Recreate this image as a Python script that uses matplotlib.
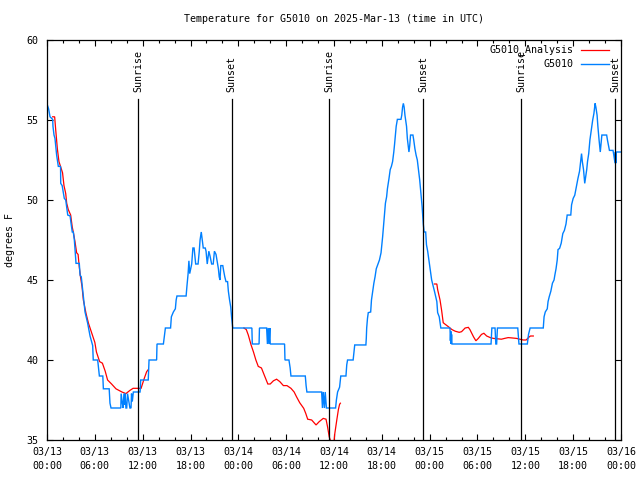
import matplotlib
matplotlib.use("Agg")
import matplotlib.pyplot as plt
from matplotlib.ticker import MultipleLocator, FixedLocator
from matplotlib.lines import Line2D

# ---------------- data (hours since 2025-03-13 00:00 UTC) ----------------
obs_hours = [0.0, 0.2, 0.38, 0.71, 0.75, 0.88, 1.0, 1.21, 1.42, 1.7, 1.72, 1.9, 2.0, 2.17, 2.35,
             2.6, 2.9, 3.0, 3.17, 3.3, 3.43, 3.64, 4.05, 4.15, 4.3, 4.47, 4.77, 5.1, 5.4, 5.73,
             5.8, 6.35, 6.4, 6.57, 7.0, 7.07, 7.8, 7.9, 8.03, 9.26, 9.3, 9.45, 9.55, 9.65, 9.75,
             9.8, 9.9, 10.0, 10.1, 10.4, 10.54, 10.6, 10.7, 10.83, 11.67, 11.7, 11.75, 12.7,
             12.75, 12.8, 13.75, 13.8, 14.6, 14.85, 15.5, 15.6, 15.85, 16.1, 16.2, 16.3, 17.45,
             17.55, 17.7, 17.8, 17.9, 18.15, 18.3, 18.45, 18.65, 18.95, 19.1, 19.2, 19.35, 19.6,
             19.85, 19.95, 20.1, 20.3, 20.45, 20.65, 20.85, 21.0, 21.2, 21.4, 21.5, 21.6, 21.7,
             21.8, 22.05, 22.15, 22.3, 22.45, 22.65, 22.75, 22.9, 23.05, 23.15, 23.3, 25.7,
             25.75, 26.6, 26.65, 27.55, 27.65, 27.75, 27.85, 27.95, 28.0, 29.8, 29.85, 30.35,
             30.5, 30.6, 32.4, 32.5, 32.6, 34.45, 34.55, 34.65, 34.8, 34.9, 35.05, 35.2, 36.2,
             36.3, 36.45, 36.7, 36.85, 37.5, 37.6, 37.7, 38.4, 38.5, 38.6, 40.0, 40.05, 40.1,
             40.2, 40.3, 40.6, 40.7, 40.85, 41.0, 41.15, 41.3, 41.45, 41.55, 41.7, 41.9, 42.0,
             42.1, 42.2, 42.3, 42.45, 42.6, 42.7, 42.9, 43.05, 43.2, 43.35, 43.5, 43.6, 43.8,
             43.95, 44.4, 44.5, 44.6, 44.7, 44.8, 44.9, 45.1, 45.2, 45.4, 45.5, 45.6, 45.9,
             46.0, 46.15, 46.3, 46.45, 46.6, 46.75, 46.9, 47.05, 47.15, 47.2, 47.3, 47.5, 47.6,
             47.75, 47.9, 48.05, 48.15, 48.25, 48.4, 48.6, 48.9, 49.0, 49.2, 49.4, 50.55, 50.6,
             50.65, 50.7, 50.75, 50.8, 55.7, 55.8, 56.2, 56.3, 56.4, 56.5, 59.05, 59.2, 60.25,
             60.4, 60.6, 62.25, 62.35, 62.5, 62.75, 62.85, 63.0, 63.2, 63.4, 63.6, 63.7, 63.85,
             64.0, 64.1, 64.3, 64.5, 64.7, 64.9, 65.1, 65.25, 65.7, 65.8, 66.0, 66.2, 66.4,
             66.6, 66.8, 67.05, 67.15, 67.3, 67.45, 67.55, 67.7, 67.8, 67.95, 68.1, 68.25,
             68.45, 68.6, 68.75, 68.85, 69.0, 69.1, 69.25, 69.4, 69.5, 69.6, 70.2, 70.3, 70.55,
             71.0, 71.1, 71.25, 71.3, 71.35, 71.4, 71.45, 71.9, 72.0]
obs_temps = [56.0, 55.7, 55.2, 55.04, 54.6, 54.06, 53.85, 52.8, 52.1, 52.1, 51.04, 50.9, 50.6,
             50.1, 50.0, 49.06, 49.0, 48.6, 48.0, 48.0, 47.5, 46.04, 46.04, 45.3, 45.2, 44.4,
             43.0, 42.3, 41.5, 40.9, 40.0, 40.0, 39.8, 39.0, 39.0, 38.2, 38.2, 37.3, 37.0, 37.0,
             37.9, 37.3, 37.0, 37.9, 37.2, 37.9, 37.0, 37.0, 37.9, 37.0, 37.0, 37.9, 37.4, 38.0,
             38.0, 38.2, 38.75, 38.75, 39.4, 40.0, 40.0, 41.0, 41.0, 42.0, 42.0, 42.7, 43.0,
             43.2, 43.75, 44.0, 44.0, 44.6, 45.4, 46.2, 45.4, 46.0, 47.0, 47.0, 46.0, 46.0, 46.8,
             47.5, 48.0, 47.0, 47.0, 46.8, 46.0, 46.8, 46.5, 46.0, 46.0, 46.8, 46.6, 46.0, 45.7,
             45.2, 45.0, 45.9, 45.9, 45.6, 45.2, 44.9, 44.9, 44.3, 43.75, 43.3, 42.7, 42.0, 42.0,
             41.0, 41.0, 42.0, 42.0, 41.0, 42.0, 41.0, 42.0, 41.0, 41.0, 40.0, 40.0, 39.5, 39.0,
             39.0, 38.4, 38.0, 38.0, 37.0, 38.0, 37.0, 38.0, 37.0, 37.0, 37.0, 37.5, 38.0, 38.3,
             39.0, 39.0, 39.7, 40.0, 40.0, 40.5, 40.94, 40.94, 41.35, 42.0, 42.6, 42.96, 43.0,
             43.75, 44.3, 44.8, 45.2, 45.7, 45.9, 46.04, 46.25, 46.7, 47.2, 47.7, 48.3, 48.85,
             49.8, 50.2, 50.7, 51.35, 51.9, 52.1, 52.4, 53.0, 53.5, 54.6, 55.04, 55.04, 55.3,
             55.8, 56.04, 55.8, 55.3, 54.6, 53.85, 53.0, 53.4, 54.06, 54.06, 53.75, 53.2, 52.8,
             52.5, 51.9, 51.25, 50.4, 49.6, 48.85, 48.5, 48.0, 48.0, 47.2, 46.8, 46.25, 45.7,
             45.3, 45.0, 44.7, 44.3, 43.65, 42.96, 42.7, 42.0, 42.0, 41.2, 41.8, 41.0, 41.6,
             41.0, 41.0, 42.0, 42.0, 41.0, 41.0, 42.0, 42.0, 41.0, 41.0, 41.6, 42.0, 42.0, 42.7,
             43.0, 43.2, 43.65, 43.96, 44.3, 44.8, 45.0, 45.3, 45.7, 46.25, 46.9, 46.98, 47.3,
             47.9, 48.1, 48.5, 49.06, 49.06, 49.7, 50.1, 50.3, 50.83, 51.35, 51.8, 52.9, 52.4,
             51.9, 51.04, 51.4, 51.9, 52.4, 52.9, 53.75, 54.3, 55.0, 55.4, 56.04, 55.8, 55.3,
             54.6, 53.75, 53.0, 53.5, 54.06, 54.06, 53.75, 53.1, 53.1, 52.8, 52.3, 53.0, 52.3,
             53.0, 53.0, 53.0, 53.0]

ana_hours_1 = [0.71, 0.96, 1.09, 1.3, 1.5, 1.76, 1.95, 2.13, 2.35, 2.47, 2.67, 2.97, 3.17, 3.3,
               3.51, 3.72, 3.9, 4.05, 4.2, 4.39, 4.56, 4.9, 5.2, 5.6, 6.0, 6.2, 6.6, 6.95, 7.3,
               7.6, 8.1, 8.65, 9.4, 9.9, 10.4, 10.8, 11.8, 12.2, 12.5, 12.7]
ana_temps_1 = [55.2, 55.2, 54.4, 53.2, 52.4, 52.0, 51.7, 50.9, 50.4, 49.8, 49.4, 49.06, 48.3,
               48.0, 47.4, 46.7, 46.6, 45.8, 45.2, 44.6, 43.75, 42.9, 42.3, 41.7, 41.1, 40.5,
               39.9, 39.8, 39.3, 38.75, 38.5, 38.2, 38.0, 37.9, 38.1, 38.23, 38.23, 38.85,
               39.27, 39.4]
ana_hours_2 = [24.7, 25.0, 25.25, 25.6, 25.9, 26.2, 26.5, 26.9, 27.25, 27.7, 28.0, 28.4, 28.8,
               29.2, 29.65, 30.1, 30.6, 31.0, 31.3, 31.7, 32.2, 32.45, 32.7, 33.2, 33.75, 34.15,
               34.65, 35.0, 35.2, 35.4, 35.6, 36.0, 36.1, 36.35, 36.55, 36.7, 36.8]
ana_temps_2 = [42.0, 41.9, 41.56, 40.94, 40.5, 40.0, 39.6, 39.5, 39.06, 38.5, 38.5, 38.7, 38.8,
               38.65, 38.4, 38.4, 38.23, 38.0, 37.7, 37.33, 36.98, 36.67, 36.3, 36.25, 35.94,
               36.15, 36.35, 36.3, 35.8, 35.2, 34.9, 34.9, 35.4, 36.25, 36.9, 37.23, 37.3]
ana_hours_3 = [48.6, 48.9, 49.0, 49.3, 49.5, 49.7, 49.9, 50.35, 50.8, 51.2, 51.7, 52.0, 52.45,
               52.85, 53.05, 53.5, 53.8, 54.1, 54.5, 54.8, 55.15, 55.6, 56.0, 57.0, 57.4, 57.85,
               58.3, 58.9, 59.3, 59.75, 60.1, 60.3, 60.5, 60.65, 61.0]
ana_temps_3 = [44.75, 44.75, 44.4, 43.75, 43.1, 42.33, 42.25, 42.08, 41.9, 41.8, 41.73, 41.77,
               42.0, 42.04, 41.9, 41.45, 41.2, 41.35, 41.6, 41.67, 41.5, 41.4, 41.35, 41.3,
               41.35, 41.4, 41.38, 41.35, 41.3, 41.25, 41.25, 41.35, 41.45, 41.5, 41.5]

event_hours = [11.42, 23.18, 35.42, 47.22, 59.46, 71.25]
event_labels = ["Sunrise", "Sunset", "Sunrise", "Sunset", "Sunrise", "Sunset"]

xtick_hours = [0, 6, 12, 18, 24, 30, 36, 42, 48, 54, 60, 66, 72]
xtick_labels = ["03/13\n00:00", "03/13\n06:00", "03/13\n12:00", "03/13\n18:00",
                "03/14\n00:00", "03/14\n06:00", "03/14\n12:00", "03/14\n18:00",
                "03/15\n00:00", "03/15\n06:00", "03/15\n12:00", "03/15\n18:00",
                "03/16\n00:00"]
ytick_vals = [35, 40, 45, 50, 55, 60]

title = "Temperature for G5010 on 2025-Mar-13 (time in UTC)"
ylabel = "degrees F"
legend_ana = "G5010_Analysis"
legend_obs = "G5010"

# ---------------- drawing ----------------
FONT = "DejaVu Sans Mono"
FS = 7.2
RED = "#ff0000"
BLUE = "#0080ff"
plt.rcParams["font.family"] = FONT
plt.rcParams["font.size"] = FS

fig = plt.figure(figsize=(6.4, 4.8), dpi=100)
ax = fig.add_axes([47 / 640, 40 / 480, 574 / 640, 400 / 480])

for h, t in [(ana_hours_1, ana_temps_1), (ana_hours_2, ana_temps_2), (ana_hours_3, ana_temps_3)]:
    ax.plot(h, t, color=RED, lw=0.9, solid_joinstyle="miter")
ax.plot(obs_hours, obs_temps, color=BLUE, lw=1.0, solid_joinstyle="miter")

for eh, el in zip(event_hours, event_labels):
    ax.plot([eh, eh], [35, 56.31], color="black", lw=0.9)
    ax.text(eh, 56.75, el, rotation=90, rotation_mode="anchor", ha="left", va="center",
            fontsize=FS, family=FONT)

ax.set_xlim(0, 72)
ax.set_ylim(35, 60)
ax.xaxis.set_major_locator(FixedLocator(xtick_hours))
ax.set_xticklabels(xtick_labels, linespacing=1.45)
ax.xaxis.set_minor_locator(MultipleLocator(2))
ax.yaxis.set_major_locator(FixedLocator(ytick_vals))
ax.set_yticklabels([str(v) for v in ytick_vals])
ax.tick_params(which="both", direction="in", top=True, right=True, width=0.8,
               labelsize=FS, colors="black")
ax.tick_params(which="major", length=4.5, pad=5)
ax.tick_params(axis="y", which="major", pad=6)
ax.tick_params(which="minor", length=2.5)
for s in ax.spines.values():
    s.set_linewidth(0.9)

fig.text(334 / 640, 1 - 19 / 480, title, ha="center", va="center", fontsize=FS, family=FONT)
fig.text(10 / 640, 0.5, ylabel, rotation=90, ha="center", va="center", fontsize=FS, family=FONT)

# legend (gnuplot style, no frame)
ax.text(0.918, 0.975, legend_ana, transform=ax.transAxes, ha="right", va="center", fontsize=FS)
ax.text(0.918, 0.94, legend_obs, transform=ax.transAxes, ha="right", va="center", fontsize=FS)
ax.add_line(Line2D([0.930, 0.979], [0.975, 0.975], transform=ax.transAxes, color=RED, lw=0.9))
ax.add_line(Line2D([0.930, 0.979], [0.94, 0.94], transform=ax.transAxes, color=BLUE, lw=1.0))

fig.savefig("out.png", dpi=100)
